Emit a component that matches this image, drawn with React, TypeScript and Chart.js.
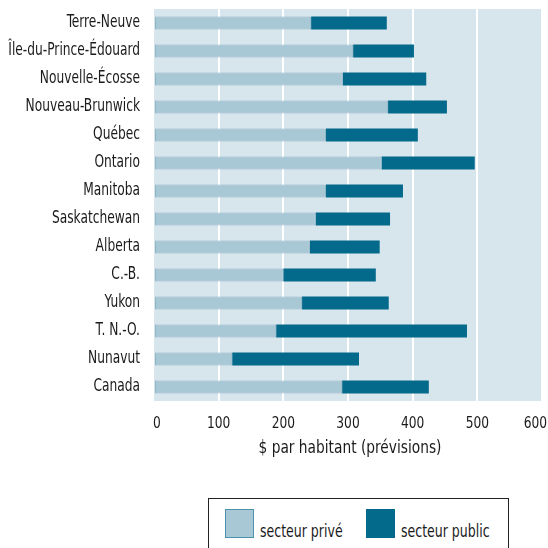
import React, { useEffect, useRef } from "react";
import { Chart, registerables } from "chart.js";

Chart.register(...registerables);

const provinces = [
  "Terre-Neuve",
  "Île-du-Prince-Édouard",
  "Nouvelle-Écosse",
  "Nouveau-Brunwick",
  "Québec",
  "Ontario",
  "Manitoba",
  "Saskatchewan",
  "Alberta",
  "C.-B.",
  "Yukon",
  "T. N.-O.",
  "Nunavut",
  "Canada",
];

// $ per capita, private sector
const privateSector = [243, 308, 292, 362, 266, 352, 266, 250, 241, 200, 229, 189, 121, 291];
// $ per capita, public sector (stacked after private)
const publicSector = [117, 94, 129, 91, 142, 144, 119, 115, 108, 143, 134, 295, 196, 134];

const xTicks = [0, 100, 200, 300, 400, 500, 600];
const xTitle = "$ par habitant (prévisions)";

const PRIVATE_COLOR = "#a9c8d6";
const PUBLIC_COLOR = "#046a8c";
const PLOT_BG = "#d7e5ed";
const TEXT_COLOR = "#1a1a1a";
const FONT = "'DejaVu Sans Condensed', 'DejaVu Sans', sans-serif";

const plotBackground = {
  id: "plotBackground",
  beforeDraw(chart: any) {
    const { ctx, chartArea } = chart;
    ctx.save();
    ctx.fillStyle = PLOT_BG;
    ctx.fillRect(chartArea.left, chartArea.top, chartArea.right - chartArea.left, chartArea.bottom - chartArea.top);
    ctx.restore();
  },
};

// Draws text squeezed horizontally to get a tall, narrow face.
function squeezedText(ctx: any, text: string, x: number, y: number, size: number, sx: number, align: string) {
  ctx.save();
  ctx.font = `${size}px ${FONT}`;
  ctx.textAlign = align;
  ctx.textBaseline = "middle";
  ctx.translate(x, y);
  ctx.scale(sx, 1);
  ctx.fillText(text, 0, 0);
  ctx.restore();
}

// Axis labels: categories right-aligned beside the y scale, value ticks and
// the axis title under the x scale.
const condensedAxisText = {
  id: "condensedAxisText",
  afterDraw(chart: any) {
    const { ctx, chartArea } = chart;
    const yScale = chart.scales.y;
    const xScale = chart.scales.x;
    const labels: string[] = chart.data.labels;
    ctx.save();
    ctx.fillStyle = TEXT_COLOR;

    labels.forEach((text, i) => {
      squeezedText(ctx, text, yScale.right - 14, yScale.getPixelForValue(i), 17, 0.8, "right");
    });

    const tickY = xScale.top + 23;
    const sx = 0.85;
    ctx.font = `16px ${FONT}`;
    xTicks.forEach((v) => {
      const w = ctx.measureText(String(v)).width * sx;
      let cx = xScale.getPixelForValue(v);
      cx = Math.max(cx, chartArea.left + w / 2 - 1);
      cx = Math.min(cx, chart.width - 1 - w / 2);
      squeezedText(ctx, String(v), cx, tickY, 16, sx, "center");
    });

    squeezedText(ctx, xTitle, (chartArea.left + chartArea.right) / 2 + 2, xScale.top + 48, 17, 0.9, "center");
    ctx.restore();
  },
};

export default function App() {
  const canvasRef = useRef<HTMLCanvasElement | null>(null);

  useEffect(() => {
    document.body.style.margin = "0";
    const canvas = canvasRef.current;
    if (!canvas) return;
    const chart = new Chart(canvas, {
      type: "bar",
      data: {
        labels: provinces,
        datasets: [
          {
            label: "secteur privé",
            data: privateSector,
            backgroundColor: PRIVATE_COLOR,
            borderColor: "#8fb5c6",
            borderWidth: 1,
            borderSkipped: false,
            categoryPercentage: 1,
            barPercentage: 0.47,
          },
          {
            label: "secteur public",
            data: publicSector,
            backgroundColor: PUBLIC_COLOR,
            borderWidth: 0,
            categoryPercentage: 1,
            barPercentage: 0.47,
          },
        ],
      },
      options: {
        indexAxis: "y",
        animation: false,
        responsive: false,
        maintainAspectRatio: false,
        layout: { padding: { left: 0, right: 6, top: 9, bottom: 0 } },
        plugins: {
          legend: { display: false },
          tooltip: { enabled: false },
        },
        scales: {
          x: {
            stacked: true,
            min: 0,
            max: 600,
            afterBuildTicks: (scale: any) => {
              scale.ticks = xTicks.map((v) => ({ value: v }));
            },
            afterFit: (scale: any) => {
              scale.height = 79;
              scale.paddingLeft = 0;
              scale.paddingRight = 0;
            },
            grid: {
              color: (c: any) => (c.tick && c.tick.value === 0 ? "rgba(0,0,0,0)" : "#ffffff"),
              lineWidth: 2,
              drawTicks: false,
            },
            border: { display: false },
            ticks: { display: false },
          },
          y: {
            stacked: true,
            afterFit: (scale: any) => {
              scale.width = 154;
              scale.paddingTop = 0;
              scale.paddingBottom = 0;
            },
            grid: { display: false, drawTicks: false },
            border: { display: false },
            ticks: { display: false },
          },
        },
      },
      plugins: [plotBackground, condensedAxisText],
    });
    return () => chart.destroy();
  }, []);

  const swatch = (bg: string, border: string): React.CSSProperties => ({
    position: "absolute",
    width: 29,
    height: 29,
    background: bg,
    border: `1px solid ${border}`,
    boxSizing: "border-box",
  });
  const label: React.CSSProperties = {
    position: "absolute",
    fontFamily: FONT,
    fontSize: 17,
    color: TEXT_COLOR,
    lineHeight: "20px",
    whiteSpace: "nowrap",
    transform: "scaleX(0.82)",
    transformOrigin: "left center",
  };

  return (
    <div style={{ position: "relative", width: 548, height: 548, overflow: "hidden", background: "#ffffff" }}>
      <canvas ref={canvasRef} width={548} height={480} style={{ display: "block" }} />
      <div
        style={{
          position: "absolute",
          left: 208,
          top: 498,
          width: 301,
          height: 70,
          border: "1px solid #222",
          boxSizing: "border-box",
        }}
      />
      <div style={{ ...swatch(PRIVATE_COLOR, "#4d93ad"), left: 225, top: 509 }} />
      <div style={{ ...label, left: 260, top: 521 }}>secteur privé</div>
      <div style={{ ...swatch(PUBLIC_COLOR, PUBLIC_COLOR), left: 366, top: 509 }} />
      <div style={{ ...label, left: 401, top: 521 }}>secteur public</div>
    </div>
  );
}
